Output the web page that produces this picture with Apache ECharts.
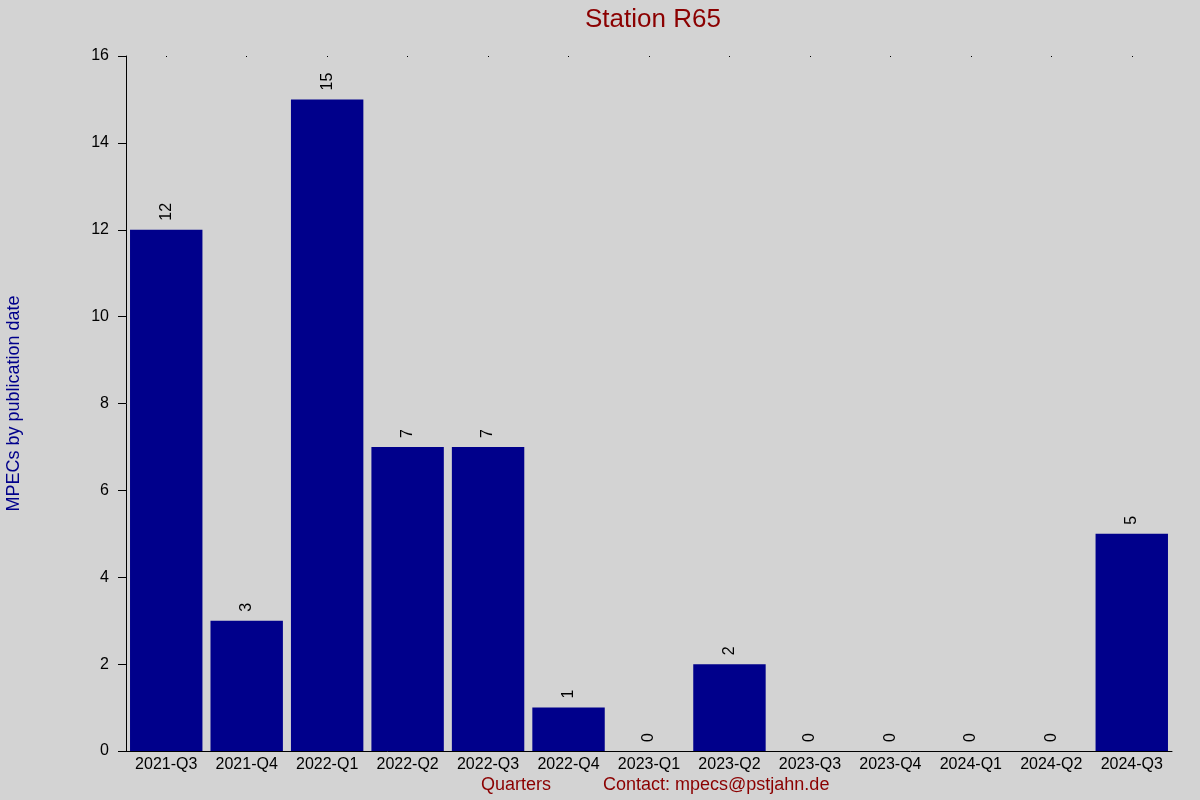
<!DOCTYPE html>
<html>
<head>
<meta charset="utf-8">
<script src="https://cdn.jsdelivr.net/npm/echarts@6/dist/echarts.min.js"></script>
<style>
html,body{margin:0;padding:0;background:#d3d3d3;}
#main{width:1200px;height:800px;}
</style>
</head>
<body>
<div id="main"></div>
<script>
// 季度名称
var quarters = ['2021-Q3','2021-Q4','2022-Q1','2022-Q2','2022-Q3','2022-Q4','2023-Q1','2023-Q2','2023-Q3','2023-Q4','2024-Q1','2024-Q2','2024-Q3'];
// MPEC 数量
var mpecCounts = [12, 3, 15, 7, 7, 1, 0, 2, 0, 0, 0, 0, 5];
var yTicks = [0, 2, 4, 6, 8, 10, 12, 14, 16];

var fontName = 'Liberation Sans, Arial, sans-serif';

var chart = echarts.init(document.getElementById('main'));
var option = {
	backgroundColor: '#d3d3d3',
	animation: false,
	title: {
		text: 'Station R65',
		left: 580,
		top: 2,
		textStyle: {
			fontFamily: fontName,
			fontSize: 26,
			fontWeight: 'normal',
			color: '#8b0000'
		}
	},
	grid: {
		left: 126,
		right: 28,
		top: 56,
		bottom: 49,
		outerBoundsMode: 'none',
		containLabel: false
	},
	xAxis: [
		{
			type: 'category',
			data: quarters,
			axisLine: { lineStyle: { color: '#000', width: 1 } },
			axisTick: { show: false },
			axisLabel: {
				color: '#000',
				fontFamily: fontName,
				fontSize: 16,
				margin: 6,
				interval: 0
			}
		},
		{
			// 顶部的小点
			type: 'category',
			position: 'top',
			data: quarters,
			axisLine: { show: false },
			axisTick: { show: true, alignWithLabel: true, length: 1, inside: true, lineStyle: { color: '#000' } },
			axisLabel: { show: false }
		}
	],
	yAxis: {
		type: 'value',
		min: yTicks[0],
		max: yTicks[yTicks.length - 1],
		interval: 2,
		name: 'MPECs by publication date',
		nameLocation: 'middle',
		nameGap: 103,
		nameTextStyle: {
			fontFamily: fontName,
			fontSize: 18,
			color: '#00008b'
		},
		axisLine: { show: true, lineStyle: { color: '#000', width: 1 } },
		axisTick: { show: true, length: 8, lineStyle: { color: '#000' } },
		splitLine: { show: false },
		axisLabel: {
			color: '#000',
			fontFamily: fontName,
			fontSize: 16,
			margin: 17
		}
	},
	series: [
		{
			name: 'MPECs',
			type: 'bar',
			data: mpecCounts,
			barCategoryGap: '10%',
			itemStyle: { color: '#00008b' },
			label: {
				show: true,
				position: 'top',
				rotate: 90,
				align: 'left',
				verticalAlign: 'middle',
				distance: 9,
				color: '#000',
				fontFamily: fontName,
				fontSize: 16
			}
		}
	],
	graphic: [
		{
			type: 'text',
			left: 481,
			top: 776,
			style: {
				text: 'Quarters',
				fill: '#8b0000',
				font: '18px ' + fontName
			}
		},
		{
			type: 'text',
			left: 603,
			top: 776,
			style: {
				text: 'Contact: mpecs@pstjahn.de',
				fill: '#8b0000',
				font: '18px ' + fontName
			}
		}
	]
};
chart.setOption(option);
</script>
</body>
</html>
